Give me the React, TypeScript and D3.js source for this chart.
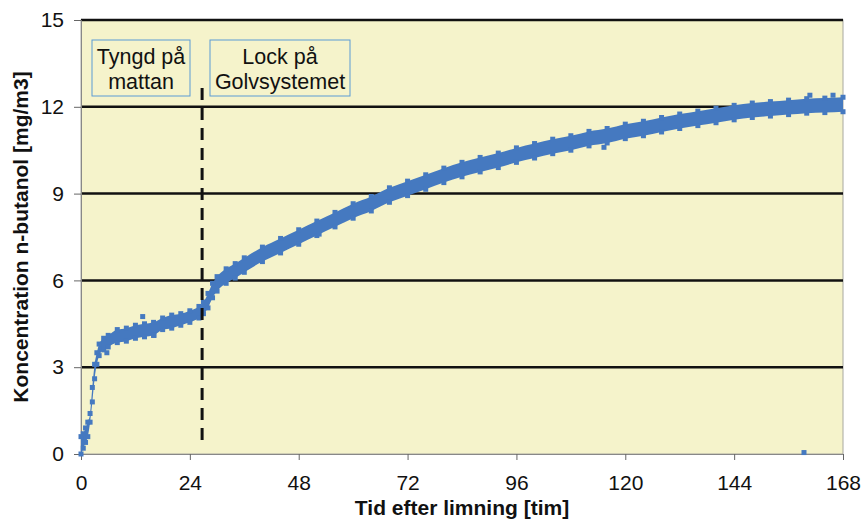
import React, { useRef, useEffect } from 'react';
import * as d3 from 'd3';

// Readings: hour, lower and upper edge of the scatter band
const hours = [0, 0.5, 1, 1.5, 2, 2.5, 3, 3.5, 4, 5, 6, 8, 10, 12, 14, 16, 18, 20, 22, 24, 26, 27, 28, 29, 30, 32, 34, 36, 40, 44, 48, 52, 56, 60, 64, 68, 72, 76, 80, 84, 88, 92, 96, 100, 104, 108, 112, 116, 120, 124, 128, 132, 136, 140, 144, 148, 152, 156, 160, 164, 168];
const concLow = [0.0, 0.2, 0.4, 0.6, 1.1, 1.8, 2.6, 3.1, 3.4, 3.6, 3.7, 3.85, 3.9, 4.0, 4.05, 4.1, 4.3, 4.35, 4.45, 4.55, 4.7, 4.85, 5.05, 5.4, 5.63, 5.9, 6.08, 6.28, 6.65, 6.95, 7.25, 7.55, 7.85, 8.15, 8.4, 8.7, 8.93, 9.15, 9.38, 9.58, 9.75, 9.9, 10.08, 10.23, 10.38, 10.5, 10.65, 10.75, 10.9, 11.0, 11.13, 11.25, 11.35, 11.45, 11.55, 11.63, 11.68, 11.73, 11.78, 11.8, 11.83];
const concHigh = [0.6, 0.7, 0.9, 1.1, 1.4, 2.3, 3.1, 3.5, 3.8, 4.0, 4.1, 4.3, 4.35, 4.45, 4.5, 4.55, 4.7, 4.8, 4.85, 4.95, 5.1, 5.25, 5.55, 5.9, 6.13, 6.4, 6.58, 6.78, 7.15, 7.45, 7.75, 8.05, 8.35, 8.65, 8.9, 9.2, 9.43, 9.65, 9.88, 10.08, 10.25, 10.4, 10.58, 10.73, 10.88, 11.0, 11.15, 11.25, 11.4, 11.5, 11.63, 11.75, 11.85, 11.95, 12.05, 12.13, 12.18, 12.23, 12.28, 12.3, 12.33];

// stray points outside the band
const strayHours = [5.7, 13.6, 16.1, 52.5, 115.3, 159.4, 160.7, 165.8];
const strayConc = [3.5, 4.75, 4.1, 7.6, 10.6, 0.05, 12.4, 12.4];

const yTicks = [0, 3, 6, 9, 12, 15];
const xTicks = [0, 24, 48, 72, 96, 120, 144, 168];
const markerHour = 26.7;

const App = () => {
  const svgRef = useRef<SVGSVGElement>(null);

  useEffect(() => {
    const width = 863;
    const height = 520;
    const left = 81, right = 843, top = 20, bottom = 454;

    const x = d3.scaleLinear().domain([0, 168]).range([left, right]);
    const y = d3.scaleLinear().domain([0, 15]).range([bottom, top]);

    const svg = d3.select(svgRef.current)
      .attr('width', width)
      .attr('height', height);

    svg.selectAll('*').remove();

    const font = 'Liberation Sans, Arial, sans-serif';
    const blue = '#4579c0';

    // plot background
    svg.append('rect')
      .attr('x', left).attr('y', top)
      .attr('width', right - left).attr('height', bottom - top)
      .attr('fill', '#f5f3cb')
      .attr('stroke', '#a8a8a0')
      .attr('stroke-width', 1);

    // horizontal grid
    svg.append('g')
      .selectAll('line')
      .data(yTicks.filter(d => d > 0))
      .enter().append('line')
      .attr('x1', left).attr('x2', right)
      .attr('y1', d => y(d)).attr('y2', d => y(d))
      .attr('stroke', '#111')
      .attr('stroke-width', 2.5);

    // axes
    const yAxis = svg.append('g')
      .attr('transform', `translate(${left},0)`)
      .call(d3.axisLeft(y).tickValues(yTicks).tickSize(7).tickPadding(10).tickFormat(d3.format('d')));
    const xAxis = svg.append('g')
      .attr('transform', `translate(0,${bottom})`)
      .call(d3.axisBottom(x).tickValues(xTicks).tickSize(6).tickPadding(15).tickFormat(d3.format('d')));

    [yAxis, xAxis].forEach(g => {
      g.select('.domain').attr('stroke', '#888');
      g.selectAll('.tick line').attr('stroke', '#666');
      g.selectAll('.tick text')
        .attr('font-family', font)
        .attr('font-size', 21)
        .attr('fill', '#111');
    });

    // scatter band
    const band = hours.map((h, i) => ({ h, lo: concLow[i], hi: concHigh[i] }));
    const area = d3.area<{ h: number; lo: number; hi: number }>()
      .x(d => x(d.h))
      .y0(d => y(d.lo))
      .y1(d => y(d.hi))
      .curve(d3.curveMonotoneX);

    svg.append('path')
      .datum(band)
      .attr('d', area)
      .attr('fill', blue);

    const sq = 5;
    const edgePts = band.flatMap(d => [{ h: d.h, v: d.lo }, { h: d.h, v: d.hi }]);
    const stray = strayHours.map((h, i) => ({ h, v: strayConc[i] }));

    svg.append('g')
      .selectAll('rect')
      .data(edgePts.concat(stray))
      .enter().append('rect')
      .attr('x', d => x(d.h) - sq / 2)
      .attr('y', d => y(d.v) - sq / 2)
      .attr('width', sq)
      .attr('height', sq)
      .attr('fill', blue);

    // dashed marker
    svg.append('line')
      .attr('x1', x(markerHour)).attr('x2', x(markerHour))
      .attr('y1', 88).attr('y2', 447)
      .attr('stroke', '#111')
      .attr('stroke-width', 3)
      .attr('stroke-dasharray', '12,8');

    // annotation boxes
    const notes = [
      { x0: 92, x1: 190, lines: ['Tyngd på', 'mattan'] },
      { x0: 210, x1: 350, lines: ['Lock på', 'Golvsystemet'] }
    ];
    notes.forEach(n => {
      svg.append('rect')
        .attr('x', n.x0).attr('y', 40)
        .attr('width', n.x1 - n.x0).attr('height', 56)
        .attr('fill', '#f5f3cb')
        .attr('stroke', '#5b9bd5')
        .attr('stroke-width', 1);
      n.lines.forEach((t, i) => {
        svg.append('text')
          .attr('x', (n.x0 + n.x1) / 2)
          .attr('y', 64 + i * 25)
          .attr('text-anchor', 'middle')
          .attr('font-family', font)
          .attr('font-size', 21.5)
          .attr('fill', '#111')
          .text(t);
      });
    });

    // axis titles
    svg.append('text')
      .attr('x', (left + right) / 2)
      .attr('y', 515)
      .attr('text-anchor', 'middle')
      .attr('font-family', font)
      .attr('font-size', 21)
      .attr('font-weight', 'bold')
      .attr('fill', '#111')
      .text('Tid efter limning [tim]');

    svg.append('text')
      .attr('transform', `translate(28,${(top + bottom) / 2}) rotate(-90)`)
      .attr('text-anchor', 'middle')
      .attr('font-family', font)
      .attr('font-size', 21)
      .attr('font-weight', 'bold')
      .attr('fill', '#111')
      .text('Koncentration n-butanol [mg/m3]');
  }, []);

  return (
    <svg ref={svgRef} style={{ position: 'absolute', left: 0, top: 0 }}></svg>
  );
};

export default App;
